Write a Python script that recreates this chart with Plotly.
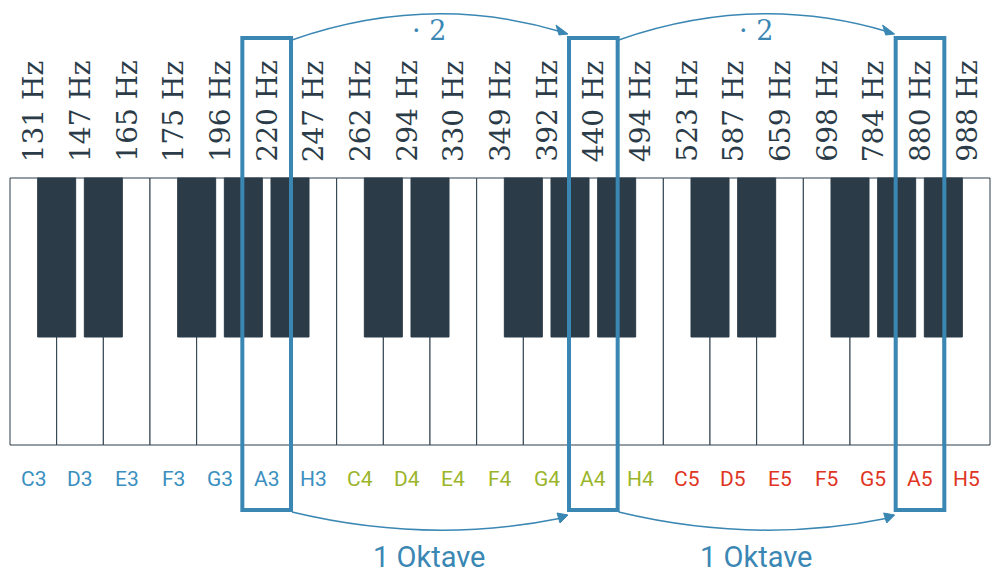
import plotly.graph_objects as go

notes = ["C3","D3","E3","F3","G3","A3","H3","C4","D4","E4","F4","G4","A4","H4","C5","D5","E5","F5","G5","A5","H5"]
freqs = ["131 Hz","147 Hz","165 Hz","175 Hz","196 Hz","220 Hz","247 Hz","262 Hz","294 Hz","330 Hz","349 Hz","392 Hz","440 Hz","494 Hz","523 Hz","587 Hz","659 Hz","698 Hz","784 Hz","880 Hz","988 Hz"]
octave_colors = ["#3a8fc0"]*7 + ["#9bb52b"]*7 + ["#e03524"]*7
black_after = [0,1,3,4,5]  # within octave
highlight = [5,12,19]
arrow_label = "· 2"
octave_label = "1 Oktave"

X0, X1 = 10, 990
W = (X1-X0)/len(notes)
TOP, BOT, BBOT = 178, 445, 337
BLUE = "#3a87b4"
DARK = "#2b3c48"

fig = go.Figure()
shapes, ann = [], []
for i in range(len(notes)):
    x = X0 + i*W
    shapes.append(dict(type="rect", x0=x, x1=x+W, y0=TOP, y1=BOT, line=dict(color="#2b3c48", width=1), fillcolor="white", layer="above"))
for i in range(len(notes)-1):
    if i % 7 in black_after:
        c = X0 + (i+1)*W
        shapes.append(dict(type="rect", x0=c-19, x1=c+19, y0=TOP, y1=BBOT, line=dict(color=DARK, width=1), fillcolor=DARK, layer="above"))
for i, (n, f, col) in enumerate(zip(notes, freqs, octave_colors)):
    c = X0 + (i+0.5)*W
    ann.append(dict(x=c, y=479, text=n, showarrow=False, font=dict(family="Roboto", size=21, color=col)))
    ann.append(dict(x=c, y=164, text=f, showarrow=False, textangle=-90, yanchor="bottom", xanchor="center",
                    font=dict(family="DejaVu Serif", size=28, color=DARK)))
for i in highlight:
    x = X0 + i*W
    shapes.append(dict(type="rect", x0=x-1, x1=x+W+1, y0=38, y1=510, line=dict(color=BLUE, width=4), layer="above"))
for a, b in zip(highlight[:-1], highlight[1:]):
    xa = X0 + (a+1)*W + 2
    xb = X0 + b*W - 4
    xm = (xa+xb)/2
    shapes.append(dict(type="path", path=f"M {xa},40 Q {xm},-8 {xb-4},32", line=dict(color=BLUE, width=1.5), layer="above"))
    shapes.append(dict(type="path", path=f"M {xb+2},34 L {xb-10},25 L {xb-7},35 Z", fillcolor=BLUE, line=dict(color=BLUE, width=1), layer="above"))
    shapes.append(dict(type="path", path=f"M {xa},512 Q {xm},545 {xb-4},518", line=dict(color=BLUE, width=1.5), layer="above"))
    shapes.append(dict(type="path", path=f"M {xb+2},515 L {xb-9},513 L {xb-6},523 Z", fillcolor=BLUE, line=dict(color=BLUE, width=1), layer="above"))
    ann.append(dict(x=xm, y=30, text=arrow_label, showarrow=False, font=dict(family="DejaVu Serif", size=27, color=BLUE)))
    ann.append(dict(x=xm, y=557, text=octave_label, showarrow=False, font=dict(family="Roboto", size=29, color=BLUE)))

fig.update_layout(width=1000, height=580, margin=dict(l=0, r=0, t=0, b=0),
                  plot_bgcolor="white", paper_bgcolor="white", shapes=shapes, annotations=ann,
                  xaxis=dict(range=[8,1008], visible=False), yaxis=dict(range=[588,8], visible=False),
                  showlegend=False)
fig.write_html("out.html")
